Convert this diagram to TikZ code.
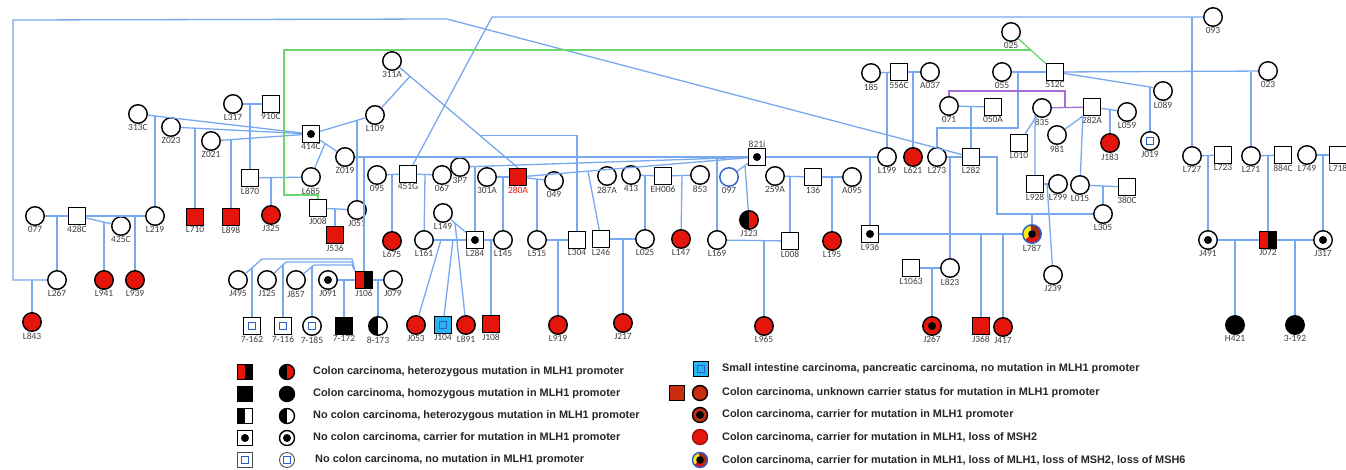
\documentclass[tikz,border=0pt]{standalone}
\usepackage{fontspec}
\setmainfont{Liberation Sans}
\newfontfamily\labelfont{Carlito}
\definecolor{pedred}{RGB}{228,22,12}
\definecolor{darkred}{RGB}{200,45,15}
\definecolor{brownred}{RGB}{165,40,20}
\definecolor{pedblue}{RGB}{120,168,238}
\definecolor{nomutblue}{RGB}{45,95,200}
\definecolor{cyanfill}{RGB}{40,180,240}
\definecolor{pedgreen}{RGB}{105,215,105}
\definecolor{pedpurple}{RGB}{165,110,215}
\definecolor{pedyellow}{RGB}{250,235,20}
\begin{document}
\begin{tikzpicture}[x=1pt,y=-1pt,
  every label/.style={font=\labelfont\fontsize{9.5}{9.5}\selectfont,text=black!75,inner sep=0.4pt}]
\tikzstyle{fem}=[circle,draw=black,line width=1.4pt,fill=white,minimum size=18.5pt,inner sep=0pt]
\tikzstyle{mal}=[rectangle,draw=black,line width=1.4pt,fill=white,minimum size=17pt,inner sep=0pt]
\tikzstyle{aff}=[fill=pedred]
\tikzstyle{carrier}=[path picture={\fill[black] (path picture bounding box.center) circle (4pt);}]
\tikzstyle{halfRB}=[path picture={\fill[pedred] (path picture bounding box.south west) rectangle (path picture bounding box.north);
  \fill[black] (path picture bounding box.north) rectangle (path picture bounding box.south east);}]
\tikzstyle{halfBR}=[path picture={\fill[black] (path picture bounding box.south west) rectangle (path picture bounding box.north);
  \fill[pedred] (path picture bounding box.north) rectangle (path picture bounding box.south east);}]
\tikzstyle{halfBW}=[path picture={\fill[black] (path picture bounding box.south west) rectangle (path picture bounding box.north);}]
\tikzstyle{noMut}=[path picture={\draw[nomutblue,line width=1.1pt] (path picture bounding box.center) ++(-3.6pt,-3.6pt) rectangle ++(7.2pt,7.2pt);}]
\tikzstyle{lossAll}=[draw=nomutblue,path picture={
  \fill[pedyellow] (path picture bounding box.center) -- ++(100:10pt) arc[start angle=100,end angle=220,radius=10pt] -- cycle;
  \fill[pedred] (path picture bounding box.center) -- ++(220:10pt) arc[start angle=220,end angle=330,radius=10pt] -- cycle;
  \fill[brownred] (path picture bounding box.center) -- ++(330:10pt) arc[start angle=330,end angle=460,radius=10pt] -- cycle;
  \fill[black] (path picture bounding box.center) circle (3.8pt);}]
\tikzstyle{kin}=[draw=pedblue,line width=1.3pt]
\tikzstyle{cons}=[draw=pedgreen,line width=1.3pt]
\tikzstyle{twin}=[draw=pedpurple,line width=1.3pt]
\tikzstyle{legtxt}=[anchor=west,font=\bfseries\fontsize{10.9}{11}\selectfont,text=black!85,inner sep=0pt]
\tikzstyle{legsym}=[minimum size=15pt]
\useasboundingbox (0,0) rectangle (1346,469);

% women
\node[fem,label=below:313C] (n313C) at (138,114) {};
\node[fem,label=below:Z023] (nZ023) at (171,127) {};
\node[fem,label=below:Z021] (nZ021) at (211,141) {};
\node[fem,label=below:L317] (nL317) at (233,104) {};
\node[fem,label=below:L685] (nL685) at (311,177) {};
\node[fem,label=below:077] (n077) at (35,216) {};
\node[fem,label=below:425C] (n425C) at (121,226) {};
\node[fem,label=below:L219] (nL219) at (155,216) {};
\node[fem,label=below:L267] (nL267) at (57,280) {};
\node[fem,label=below:L109] (nL109) at (375,115) {};
\node[fem,label=below:311A] (n311A) at (392,61) {};
\node[fem,label=below:Z019] (nZ019) at (345,157) {};
\node[fem,label=below:J051] (nJ051) at (357,210) {};
\node[fem,label=below:095] (n095) at (377,175) {};
\node[fem,label=below:067] (n067) at (442,175) {};
\node[fem,label=below:3P7] (n3P7) at (460,167) {};
\node[fem,label=below:301A] (n301A) at (487,177) {};
\node[fem,label=below:049] (n049) at (554,181) {};
\node[fem,label=below:287A] (n287A) at (607,176) {};
\node[fem,label=below:413] (n413) at (631,175) {};
\node[fem,label=below:853] (n853) at (700,175) {};
\node[fem,label=below:L149] (nL149) at (443,213) {};
\node[fem,label=below:L161] (nL161) at (424,240) {};
\node[fem,label=below:L145] (nL145) at (503,240) {};
\node[fem,label=below:L515] (nL515) at (537,240) {};
\node[fem,label=below:L025] (nL025) at (645,239) {};
\node[fem,label=below:J495] (nJ495) at (238,280) {};
\node[fem,label=below:J125] (nJ125) at (267,280) {};
\node[fem,label=below:J857] (nJ857) at (296,280) {};
\node[fem,label=below:J079] (nJ079) at (393,280) {};
\node[fem,label=below:259A] (n259A) at (775,176) {};
\node[fem,label=below:A095] (nA095) at (852,177) {};
\node[fem,label=below:L199] (nL199) at (887,157) {};
\node[fem,label=below:L273] (nL273) at (937,157) {};
\node[fem,label=below:185] (n185) at (871,73) {};
\node[fem,label=below:A037] (nA037) at (930,72) {};
\node[fem,label=below:071] (n071) at (949,106) {};
\node[fem,label=below:055] (n055) at (1002,72) {};
\node[fem,label=below:025] (n025) at (1011,32) {};
\node[fem,label=below:093] (n093) at (1213,17) {};
\node[fem,label=below:023] (n023) at (1268,71) {};
\node[fem,label=below:L089] (nL089) at (1163,91) {};
\node[fem,label=below:835] (n835) at (1042,108) {};
\node[fem,label=below:981] (n981) at (1057,135) {};
\node[fem,label=below:L059] (nL059) at (1127,112) {};
\node[fem,label=below:L799] (nL799) at (1058,184) {};
\node[fem,label=below:L015] (nL015) at (1080,185) {};
\node[fem,label=below:L305] (nL305) at (1103,214) {};
\node[fem,label=below:L727] (nL727) at (1192,156) {};
\node[fem,label=below:L271] (nL271) at (1251,156) {};
\node[fem,label=below:L749] (nL749) at (1307,155) {};
\node[fem,label=below:L169] (nL169) at (717,240) {};
\node[fem,label=below:L823] (nL823) at (950,268) {};
\node[fem,label=below:J239] (nJ239) at (1053,275) {};
\node[fem,draw=nomutblue,label=below:097] (n097) at (729,177) {};

% men
\node[mal,label=below:910C] (n910C) at (271,104) {};
\node[mal,label=below:L870] (nL870) at (250,178) {};
\node[mal,label=below:J008] (nJ008) at (318,208) {};
\node[mal,label=below:428C] (n428C) at (77,216) {};
\node[mal,label=below:451G] (n451G) at (408,174) {};
\node[mal,label=below:EH006] (nEH006) at (663,176) {};
\node[mal,label=below:L304] (nL304) at (577,240) {};
\node[mal,label=below:L246] (nL246) at (601,239) {};
\node[mal,label=below:136] (n136) at (813,177) {};
\node[mal,label=below:556C] (n556C) at (899,72) {};
\node[mal,label=below:050A] (n050A) at (993,107) {};
\node[mal,label=below:L282] (nL282) at (971,157) {};
\node[mal,label=below:512C] (n512C) at (1055,72) {};
\node[mal,label=below:282A] (n282A) at (1092,107) {};
\node[mal,label=below:L010] (nL010) at (1019,143) {};
\node[mal,label=below:L928] (nL928) at (1035,184) {};
\node[mal,label=below:380C] (n380C) at (1127,187) {};
\node[mal,label=below:L723] (nL723) at (1223,155) {};
\node[mal,label=below:884C] (n884C) at (1283,155) {};
\node[mal,label=below:L718] (nL718) at (1338,155) {};
\node[mal,label=below:L008] (nL008) at (790,241) {};
\node[mal,label=below:L1063] (nL1063) at (911,268) {};

% colon carcinoma
\node[fem,aff,label=below:J325] (nJ325) at (271,215) {};
\node[fem,aff,label=below:L941] (nL941) at (104,280) {};
\node[fem,aff,label=below:L939] (nL939) at (135,280) {};
\node[fem,aff,label=below:L843] (nL843) at (32,322) {};
\node[fem,aff,label=below:L675] (nL675) at (392,241) {};
\node[fem,aff,label=below:J053] (nJ053) at (416,325) {};
\node[fem,aff,label=below:L891] (nL891) at (466,325) {};
\node[fem,aff,label=below:L919] (nL919) at (558,325) {};
\node[fem,aff,label=below:J217] (nJ217) at (623,323) {};
\node[fem,aff,label=below:L147] (nL147) at (681,239) {};
\node[fem,aff,label=below:L195] (nL195) at (832,241) {};
\node[fem,aff,label=below:L621] (nL621) at (913,157) {};
\node[fem,aff,label=below:J183] (nJ183) at (1110,143) {};
\node[fem,aff,label=below:L965] (nL965) at (764,326) {};
\node[fem,aff,label=below:J417] (nJ417) at (1003,327) {};
\node[mal,aff,label=below:L710] (nL710) at (195,217) {};
\node[mal,aff,label=below:L898] (nL898) at (231,217) {};
\node[mal,aff,label=below:J536] (nJ536) at (335,235) {};
\node[mal,aff,label={[text=pedred]below:280A}] (n280A) at (518,177) {};
\node[mal,aff,label=below:J108] (nJ108) at (491,324) {};
\node[mal,aff,label=below:J368] (nJ368) at (981,326) {};

% carriers and mutations
\node[mal,carrier,label=below:414C] (n414C) at (311,134) {};
\node[mal,carrier,label=below:L284] (nL284) at (475,240) {};
\node[mal,carrier,label=above:821i] (n821i) at (757,157) {};
\node[mal,carrier,label=below:L936] (nL936) at (870,234) {};
\node[fem,carrier,label=below:J091] (nJ091) at (328,280) {};
\node[fem,carrier,label=below:J491] (nJ491) at (1208,240) {};
\node[fem,carrier,label=below:J317] (nJ317) at (1323,240) {};
\node[fem,aff,carrier,label=below:J267] (nJ267) at (932,326) {};
\node[mal,halfRB,label=below:J106] (nJ106) at (364,280) {};
\node[mal,halfRB,label=below:J072] (nJ072) at (1268,240) {};
\node[fem,halfBR,label=below:J123] (nJ123) at (749,220) {};
\node[fem,halfBW,label=below:8-173] (n8173) at (378,326) {};
\node[mal,fill=black,label=below:7-172] (n7172) at (344,326) {};
\node[fem,fill=black,label=below:H421] (nH421) at (1235,325) {};
\node[fem,fill=black,label=below:3-192] (n3192) at (1295,325) {};
\node[mal,noMut,label=below:7-162] (n7162) at (252,326) {};
\node[mal,noMut,label=below:7-116] (n7116) at (283,326) {};
\node[fem,noMut,label=below:7-185] (n7185) at (312,326) {};
\node[fem,noMut,label=below:J019] (nJ019) at (1150,141) {};
\node[mal,fill=cyanfill,noMut,label=below:J104] (nJ104) at (443,325) {};
\node[fem,lossAll,label=below:L787] (nL787) at (1032,234) {};

% junctions
\coordinate (jL219) at (155,116);
\coordinate (jL710) at (195,128.2);
\coordinate (jL898) at (231,139.6);
\coordinate (jL870) at (250,104);
\coordinate (jJ325) at (271,178);
\coordinate (jJ051) at (357,120.3);
\coordinate (jL685) at (325,143.5);
\coordinate (jL109) at (410,76.3);
\coordinate (jL304) at (480,135.7);
\coordinate (jJ536) at (335,209);
\coordinate (jL267) at (57,216);
\coordinate (jL941) at (104,222.1);
\coordinate (jL939) at (135,216);
\coordinate (kTopL) at (447,19);
\coordinate (kLeft) at (13,20);
\coordinate (jL843) at (32,280);
\coordinate (kTopR) at (492,17);
\coordinate (jL727) at (1192,17);
\coordinate (jL675) at (392,174.5);
\coordinate (jL161) at (425,174.5);
\coordinate (jJ106) at (364,157);
\coordinate (jL169) at (717,157);
\coordinate (jL284) at (475,166.5);
\coordinate (jL246) at (588,171.1);
\coordinate (jL145) at (503,177);
\coordinate (jL515) at (537,179);
\coordinate (jL025) at (645,175.5);
\coordinate (jL147) at (682,175.5);
\coordinate (jJ123) at (745,165.6);
\coordinate (jL936) at (870,157);
\coordinate (jL008) at (790,176.5);
\coordinate (jL195) at (832,177);
\coordinate (jL199) at (887,72.5);
\coordinate (jL621) at (913,72);
\coordinate (jL282) at (971,106.5);
\coordinate (jL273) at (1018,72);
\coordinate (kL273) at (1018,128);
\coordinate (jL823) at (950,157);
\coordinate (kL305) at (997,157);
\coordinate (jL787) at (1032,214);
\coordinate (jJ368) at (981,234);
\coordinate (jJ417) at (1003,234);
\coordinate (jJ267) at (932,268);
\coordinate (jL271) at (1251,71.5);
\coordinate (jJ019) at (1150,87);
\coordinate (kP2) at (1065,91);
\coordinate (jP) at (1065,108);
\coordinate (jJ183) at (1110,109.5);
\coordinate (jJ239) at (1047,184);
\coordinate (jL305) at (1103,186);
\coordinate (jJ491) at (1208,155.5);
\coordinate (jJ072) at (1268,155.5);
\coordinate (jJ317) at (1323,155);
\coordinate (jH421) at (1235,240);
\coordinate (j3192) at (1295,240);
\coordinate (jJ053) at (441,240);
\coordinate (jJ104) at (453,240);
\coordinate (jL891) at (455,223);
\coordinate (jJ108) at (491,240);
\coordinate (jL919) at (558,240);
\coordinate (jJ217) at (623,239);
\coordinate (jL965) at (764,240.5);
\coordinate (j7172) at (344,280);
\coordinate (j8173) at (378,280);
\coordinate (kJ495a) at (352,259);
\coordinate (kJ495b) at (262,259);
\coordinate (kJ125a) at (352,262);
\coordinate (kJ125b) at (286,262);
\coordinate (kJ857a) at (352,265);
\coordinate (kJ857b) at (314,265);
\coordinate (j7162) at (252,267.8);
\coordinate (j7116) at (283,264.8);
\coordinate (j7185) at (312,266.7);
\coordinate (gA) at (318,195);
\coordinate (gB) at (284,195);
\coordinate (gC) at (284,50);
\coordinate (gD) at (1031,50);

% marriages and descent
\draw[kin] (n313C) -- (n414C);
\draw[kin] (nZ023) -- (n414C);
\draw[kin] (nZ021) -- (n414C);
\draw[kin] (jL219) -- (nL219);
\draw[kin] (jL710) -- (nL710);
\draw[kin] (jL898) -- (nL898);
\draw[kin] (nL317) -- (n910C);
\draw[kin] (jL870) -- (nL870);
\draw[kin] (nL870) -- (nL685);
\draw[kin] (jJ325) -- (nJ325);
\draw[kin] (n414C) -- (nL109);
\draw[kin] (jJ051) -- (nJ051);
\draw[kin] (n414C) -- (nZ019);
\draw[kin] (jL685) -- (nL685);
\draw[kin] (n311A) -- (n280A.north);
\draw[kin] (jL109) -- (nL109);
\draw[kin] (jL304) -| (nL304);
\draw[kin] (nJ008) -- (nJ051);
\draw[kin] (jJ536) -- (nJ536);
\draw[kin] (n077) -- (n428C);
\draw[kin] (jL267) -- (nL267);
\draw[kin] (n428C) -- (n425C);
\draw[kin] (jL941) -- (nL941);
\draw[kin] (n428C) -- (nL219);
\draw[kin] (jL939) -- (nL939);
\draw[kin] (nL282) -- (kTopL) -- (kLeft) |- (nL267);
\draw[kin] (jL843) -- (nL843);
\draw[kin] (n451G) -- (kTopR) -- (n093);
\draw[kin] (jL727) -- (nL727);
\draw[kin] (n095) -- (n451G);
\draw[kin] (jL675) -- (nL675);
\draw[kin] (n451G) -- (n067);
\draw[kin] (jL161) -- (nL161);
\draw[kin] (nZ019) -- (n821i);
\draw[kin] (jJ106) -- (nJ106);
\draw[kin] (jL169) -- (nL169);
\draw[kin] (n3P7) -- (n821i);
\draw[kin] (jL284) -- (nL284);
\draw[kin] (n280A) -- (n821i);
\draw[kin] (jL246) -- (nL246);
\draw[kin] (n301A) -- (n280A);
\draw[kin] (jL145) -- (nL145);
\draw[kin] (n280A) -- (n049);
\draw[kin] (jL515) -- (nL515);
\draw[kin] (n413) -- (nEH006);
\draw[kin] (jL025) -- (nL025);
\draw[kin] (nEH006) -- (n853);
\draw[kin] (jL147) -- (nL147);
\draw[kin] (n821i) -- (n097);
\draw[kin] (jJ123) -- (nJ123);
\draw[kin] (n821i) -- (nL199);
\draw[kin] (jL936) -- (nL936);
\draw[kin] (n259A) -- (n136);
\draw[kin] (jL008) -- (nL008);
\draw[kin] (n136) -- (nA095);
\draw[kin] (jL195) -- (nL195);
\draw[kin] (n185) -- (n556C);
\draw[kin] (jL199) -- (nL199);
\draw[kin] (n556C) -- (nA037);
\draw[kin] (jL621) -- (nL621);
\draw[kin] (n071) -- (n050A);
\draw[kin] (jL282) -- (nL282);
\draw[kin] (n055) -- (n512C);
\draw[kin] (jL273) -- (kL273) -| (nL273);
\draw[kin] (nL273) -- (nL282);
\draw[kin] (jL823) -- (nL823);
\draw[kin] (nL282) -- (kL305) |- (nL305);
\draw[kin] (jL787) -- (nL787);
\draw[kin] (nL936) -- (nL787);
\draw[kin] (jJ368) -- (nJ368);
\draw[kin] (jJ417) -- (nJ417);
\draw[kin] (nL1063) -- (nL823);
\draw[kin] (jJ267) -- (nJ267);
\draw[kin] (n512C) -- (n023);
\draw[kin] (jL271) -- (nL271);
\draw[kin] (n512C) -- (jJ019) -- (nL089);
\draw[kin] (jJ019) -- (nJ019);
\draw[twin] (n071) |- (kP2) -- (jP);
\draw[twin] (n835) -- (n282A);
\draw[kin] (n835) -- (nL010);
\draw[kin] (n835.south west) -- (nL928);
\draw[kin] (n282A.south west) -- (n981);
\draw[kin] (n282A.south west) -- (nL015);
\draw[kin] (n282A) -- (nL059);
\draw[kin] (jJ183) -- (nJ183);
\draw[kin] (nL928) -- (nL799);
\draw[kin] (jJ239) -- (nJ239);
\draw[kin] (nL015) -- (n380C);
\draw[kin] (jL305) -- (nL305);
\draw[kin] (nL727) -- (nL723);
\draw[kin] (jJ491) -- (nJ491);
\draw[kin] (nL271) -- (n884C);
\draw[kin] (jJ072) -- (nJ072);
\draw[kin] (nL749) -- (nL718);
\draw[kin] (jJ317) -- (nJ317);
\draw[kin] (nJ491) -- (nJ072);
\draw[kin] (jH421) -- (nH421);
\draw[kin] (nJ072) -- (nJ317);
\draw[kin] (j3192) -- (n3192);
\draw[kin] (nL161) -- (nL284);
\draw[kin] (jJ053) -- (nJ053);
\draw[kin] (jJ104) -- (nJ104);
\draw[kin] (nL149) -- (nL284);
\draw[kin] (jL891) -- (nL891);
\draw[kin] (nL284) -- (nL145);
\draw[kin] (jJ108) -- (nJ108);
\draw[kin] (nL515) -- (nL304);
\draw[kin] (jL919) -- (nL919);
\draw[kin] (nL246) -- (nL025);
\draw[kin] (jJ217) -- (nJ217);
\draw[kin] (nL169) -- (nL008);
\draw[kin] (jL965) -- (nL965);
\draw[kin] (nJ091) -- (nJ106);
\draw[kin] (j7172) -- (n7172);
\draw[kin] (nJ106) -- (nJ079);
\draw[kin] (j8173) -- (n8173);
\draw[kin] (nJ106.north west) -- (kJ495a) -- (kJ495b) -- (nJ495);
\draw[kin] (nJ106.north west) -- (kJ125a) -- (kJ125b) -- (nJ125);
\draw[kin] (nJ106.north west) -- (kJ857a) -- (kJ857b) -- (nJ857);
\draw[kin] (j7162) -- (n7162);
\draw[kin] (j7116) -- (n7116);
\draw[kin] (j7185) -- (n7185);
\draw[cons] (nJ008) -- (gA) -- (gB) -- (gC) -- (gD);
\draw[cons] (n025) -- (n512C);

% legend
\node[mal,legsym,halfRB] (lgA1) at (245,372) {};
\node[fem,legsym,halfBR] (lgA2) at (287,372) {};
\node[legtxt] (ltA) at (313,372) {Colon carcinoma, heterozygous mutation in MLH1 promoter};
\node[mal,legsym,fill=black] (lgB1) at (245,394) {};
\node[fem,legsym,fill=black] (lgB2) at (287,394) {};
\node[legtxt] (ltB) at (313,394) {Colon carcinoma, homozygous mutation in MLH1 promoter};
\node[mal,legsym,halfBW] (lgC1) at (245,416) {};
\node[fem,legsym,halfBW] (lgC2) at (287,416) {};
\node[legtxt] (ltC) at (313,416) {No colon carcinoma, heterozygous mutation in MLH1 promoter};
\node[mal,legsym,carrier] (lgD1) at (245,438) {};
\node[fem,legsym,carrier] (lgD2) at (287,438) {};
\node[legtxt] (ltD) at (313,438) {No colon carcinoma, carrier for mutation in MLH1 promoter};
\node[mal,legsym,line width=0.9pt,draw=black!70,noMut] (lgE1) at (245,460) {};
\node[fem,legsym,line width=0.9pt,draw=black!70,noMut] (lgE2) at (287,460) {};
\node[legtxt] (ltE) at (315,460) {No colon carcinoma, no mutation in MLH1 promoter};

\node[mal,legsym,fill=cyanfill,noMut] (lgF1) at (701,369) {};
\node[legtxt] (ltF) at (722,369) {Small intestine carcinoma, pancreatic carcinoma, no mutation in MLH1 promoter};
\node[mal,legsym,fill=darkred] (lgG1) at (677,393) {};
\node[fem,legsym,fill=darkred] (lgG2) at (700,393) {};
\node[legtxt] (ltG) at (722,393) {Colon carcinoma, unknown carrier status for mutation in MLH1 promoter};
\node[fem,legsym,fill=darkred,carrier] (lgH1) at (700,415) {};
\node[legtxt] (ltH) at (722,415) {Colon carcinoma, carrier for mutation in MLH1 promoter};
\node[fem,legsym,fill=pedred,draw=pedred!70!black] (lgI1) at (700,437) {};
\node[legtxt] (ltI) at (722,437) {Colon carcinoma, carrier for mutation in MLH1, loss of MSH2};
\node[fem,legsym,lossAll] (lgJ1) at (700,460) {};
\node[legtxt] (ltJ) at (722,460) {Colon carcinoma, carrier for mutation in MLH1, loss of MLH1, loss of MSH2, loss of MSH6};
\end{tikzpicture}
\end{document}
